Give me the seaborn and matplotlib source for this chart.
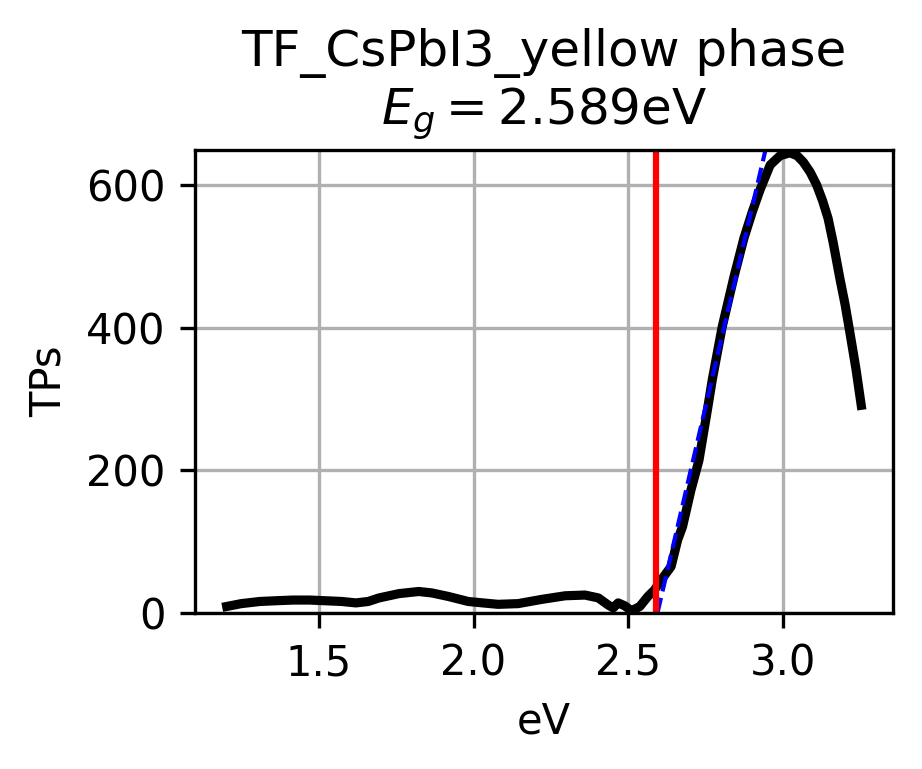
import matplotlib
matplotlib.use('Agg')
import matplotlib.pyplot as plt
import seaborn as sns
import pandas as pd

# Tauc-plot style spectrum
energy_ev = [1.203, 1.250, 1.310, 1.360, 1.417, 1.470, 1.523, 1.575, 1.620,
             1.660, 1.695, 1.759, 1.823, 1.865, 1.919, 1.983, 2.030, 2.079,
             2.144, 2.221, 2.296, 2.360, 2.403, 2.435, 2.451, 2.467, 2.488,
             2.510, 2.537, 2.563, 2.584, 2.606, 2.638, 2.659, 2.675, 2.702,
             2.728, 2.755, 2.771, 2.803, 2.841, 2.873, 2.900, 2.926, 2.958,
             2.990, 3.022, 3.045, 3.065, 3.087, 3.108, 3.127, 3.145, 3.161,
             3.183, 3.200, 3.215, 3.235, 3.252]
tps = [9, 13, 16, 17, 18, 18, 17, 16, 14,
       16, 21, 27, 30, 28, 23, 16, 14, 12,
       13, 19, 24, 25, 21, 11, 7, 14, 10,
       3, 9, 23, 32, 46, 65, 102, 121, 172,
       214, 284, 327, 401, 471, 525, 562, 594, 628,
       641, 645, 641, 632, 618, 600, 578, 553, 520,
       469, 432, 394, 342, 291]

# linear fit of the absorption edge
fit_x = [2.594, 2.960]
fit_y = [0, 681]

EG = 2.589
TITLE = 'TF_CsPbI3_yellow phase\n$E_g = $' + f'{EG:.3f}eV'

plt.rcParams.update({
    'font.family': 'DejaVu Sans',
    'font.size': 10,
})

df = pd.DataFrame({'eV': energy_ev, 'TPs': tps})
fit_df = pd.DataFrame({'eV': fit_x, 'TPs': fit_y})

fig, ax = plt.subplots(figsize=(922 / 300, 769 / 300), dpi=300)
fig.subplots_adjust(left=0.2115, right=0.9685, top=0.805, bottom=0.203)

sns.lineplot(data=df, x='eV', y='TPs', color='black', linewidth=2.2, ax=ax)
sns.lineplot(data=fit_df, x='eV', y='TPs', color='blue', linewidth=1.0,
             linestyle='--', ax=ax)
ax.axvline(EG, color='red', linewidth=1.5)

ax.set_ylim(0, max(tps) + 4)
ax.set_yticks([0, 200, 400, 600])
ax.set_xticks([1.5, 2.0, 2.5, 3.0])
ax.grid(True, color='#b0b0b0', linewidth=0.8)
ax.set_title(TITLE)
ax.set_xlabel('eV')
ax.set_ylabel('TPs')

plt.savefig('out.png', dpi=300)
plt.close()
